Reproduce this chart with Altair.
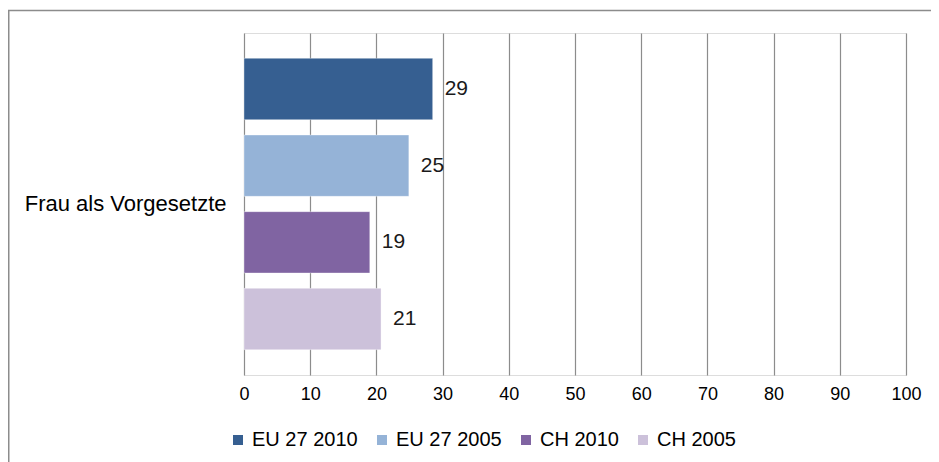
import altair as alt
import pandas as pd

category = ["Frau als Vorgesetzte"] * 4
series = ["EU 27 2010", "EU 27 2005", "CH 2010", "CH 2005"]
values = [28.5, 24.9, 19.0, 20.7]
labels = ["29", "25", "19", "21"]
colors = ["#365F91", "#95B3D7", "#8064A2", "#CCC1DA"]
ticks = [0, 10, 20, 30, 40, 50, 60, 70, 80, 90, 100]

df = pd.DataFrame({"cat": category, "series": series, "value": values, "label": labels})

FONT = "Liberation Sans"

y_enc = alt.Y("cat:N", title=None,
              scale=alt.Scale(paddingInner=0, paddingOuter=0),
              axis=alt.Axis(labelFontSize=22, labelPadding=18, ticks=False, domain=False,
                            labelLimit=400, labelColor="#000000", labelFont=FONT, grid=False))
yoff = alt.YOffset("series:N", sort=series,
                   scale=alt.Scale(domain=series, paddingInner=0.2, paddingOuter=0.33))

bars = alt.Chart(df).mark_bar(stroke="#ffffff", strokeWidth=0.6, strokeOpacity=0.6).encode(
    x=alt.X("value:Q", title=None,
            scale=alt.Scale(domain=[0, 100], nice=False),
            axis=alt.Axis(values=ticks, labelFontSize=18, labelPadding=10, ticks=False,
                          labelFlush=False, labelOverlap=False,
                          domain=False, grid=True, gridColor="#8c8c8c", gridWidth=1.2,
                          labelColor="#000000", labelFont=FONT)),
    y=y_enc,
    yOffset=yoff,
    color=alt.Color("series:N", sort=series,
                    scale=alt.Scale(domain=series, range=colors),
                    legend=alt.Legend(title=None, orient="none", legendX=-16, legendY=397,
                                      direction="horizontal", symbolType="square",
                                      symbolSize=100, symbolStrokeWidth=0,
                                      labelFontSize=20, labelFont=FONT, labelColor="#000000",
                                      labelOffset=4, columnPadding=14, padding=0)),
)

text = alt.Chart(df).mark_text(align="left", baseline="middle", dx=12, fontSize=21,
                               font=FONT, color="#1a1a1a").encode(
    x=alt.X("value:Q"),
    y=alt.Y("cat:N"),
    yOffset=alt.YOffset("series:N", sort=series),
    text="label:N",
)

border = alt.Chart(pd.DataFrame({"a": [0]})).mark_rect(
    fill="transparent", stroke="#8c8c8c", strokeWidth=1.5).encode(
    x=alt.value(-235.25), x2=alt.value(740),
    y=alt.value(-22.5), y2=alt.value(460),
)

chart = alt.layer(border, bars, text).properties(
    width=662, height=342,
    autosize=alt.AutoSizeParams(type="none"),
    padding={"left": 236, "top": 25, "right": 25, "bottom": 87},
).configure_view(strokeWidth=0).configure(background="#ffffff")

chart.save("out.html", embed_options={"renderer": "svg", "actions": False})
